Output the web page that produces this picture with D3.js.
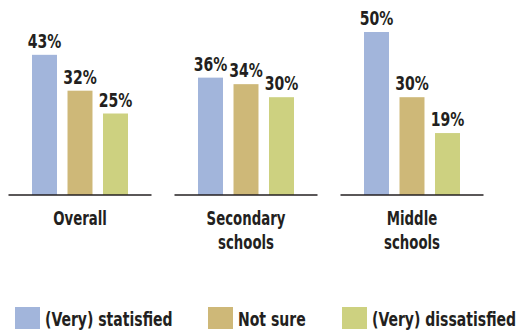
<!DOCTYPE html>
<html>
<head>
<meta charset="utf-8">
<script src="https://cdn.jsdelivr.net/npm/d3@7"></script>
<style>
  html, body { margin: 0; padding: 0; background: #fff; }
  svg { display: block; }
  text { font-family: "DejaVu Sans Condensed", "DejaVu Sans", sans-serif; font-weight: bold; fill: #231f20; }
</style>
</head>
<body>
<svg id="chart" width="516" height="332"></svg>
<script>
// Survey satisfaction by school level (percent)
const groups = ["Overall", "Secondary schools", "Middle schools"];
const groupLines = [["Overall"], ["Secondary", "schools"], ["Middle", "schools"]];
const series = ["(Very) statisfied", "Not sure", "(Very) dissatisfied"];
const satisfied = [43, 36, 50];
const notSure = [32, 34, 30];
const dissatisfied = [25, 30, 19];
const colors = ["#a2b5db", "#ceb878", "#cdd180"];

const values = [satisfied, notSure, dissatisfied];
const rows = groups.map((g, gi) => ({
  group: g,
  lines: groupLines[gi],
  bars: series.map((s, si) => ({ series: s, value: values[si][gi] }))
}));

// Narrow the condensed face further horizontally
const squeeze = 0.78;
const catSqueeze = 0.74;

const svg = d3.select("#chart");
const baseline = 195;

const x0 = d3.scaleBand().domain(groups).range([-3, 495]).padding(0);
const x1 = d3.scaleBand().domain(series).range([-48, 48]).paddingInner(0.296).paddingOuter(0);
const y = d3.scaleLinear().domain([0, 50]).range([baseline, baseline - 163]);
const color = d3.scaleOrdinal().domain(series).range(colors);

const g = svg.selectAll("g.group").data(rows).join("g")
  .attr("class", "group")
  .attr("transform", d => `translate(${x0(d.group) + x0.bandwidth() / 2},0)`);

g.selectAll("rect").data(d => d.bars).join("rect")
  .attr("x", d => x1(d.series))
  .attr("width", x1.bandwidth())
  .attr("y", d => y(d.value))
  .attr("height", d => baseline - y(d.value))
  .attr("fill", d => color(d.series));

g.selectAll("text.val").data(d => d.bars).join("text")
  .attr("class", "val")
  .attr("transform", d => `translate(${x1(d.series) + x1.bandwidth() / 2},${y(d.value) - 7}) scale(${squeeze},1)`)
  .attr("text-anchor", "middle")
  .attr("font-size", 20)
  .text(d => d.value + "%");

g.append("line")
  .attr("x1", -71.5).attr("x2", 71.5)
  .attr("y1", baseline).attr("y2", baseline)
  .attr("stroke", "#231f20").attr("stroke-width", 1.5);

g.append("text")
  .attr("class", "cat")
  .attr("transform", `translate(0,225) scale(${catSqueeze},1)`)
  .attr("text-anchor", "middle")
  .attr("font-size", 20)
  .selectAll("tspan").data(d => d.lines).join("tspan")
  .attr("x", 0)
  .attr("y", (d, i) => i * 24)
  .text(d => d);

// Legend
const legendX = [15, 208, 342];
const lg = svg.selectAll("g.legend").data(series).join("g")
  .attr("class", "legend")
  .attr("transform", (d, i) => `translate(${legendX[i]},307)`);
lg.append("rect").attr("width", 25).attr("height", 22).attr("fill", d => color(d));
lg.append("text")
  .attr("transform", `translate(30,19) scale(${squeeze},1)`)
  .attr("font-size", 20)
  .text(d => d);
</script>
</body>
</html>
